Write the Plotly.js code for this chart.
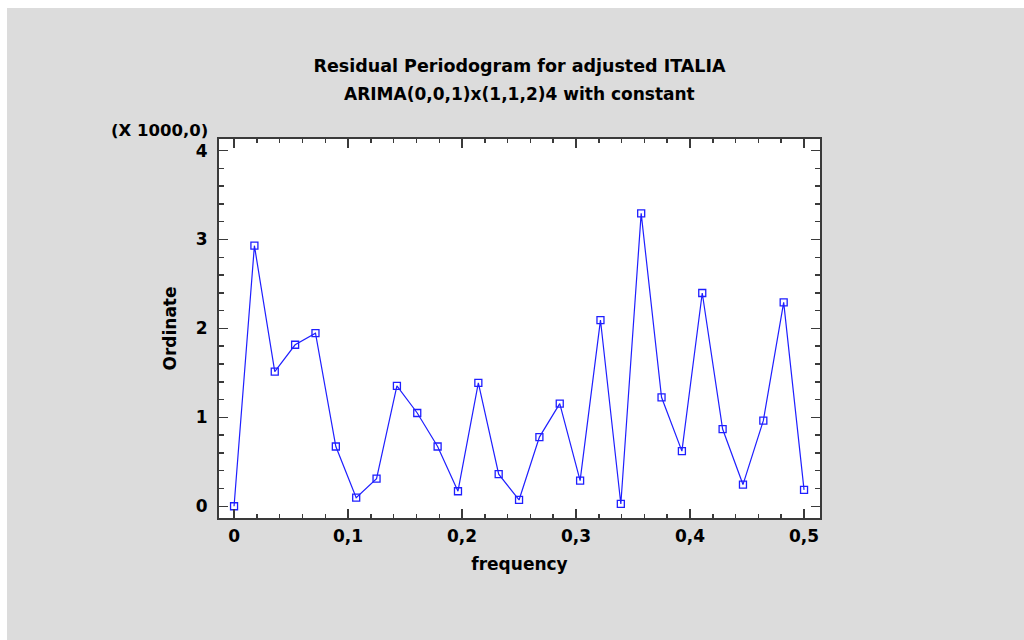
<!DOCTYPE html>
<html>
<head>
<meta charset="utf-8">
<script src="https://cdn.plot.ly/plotly-3.0.1.min.js"></script>
<style>
  html, body { margin: 0; padding: 0; background: #ffffff; width: 1024px; height: 640px; overflow: hidden; }
  #chart { position: absolute; left: 7px; top: 8px; width: 1017px; height: 632px; }
</style>
</head>
<body>
<div id="chart"></div>
<script>
// Periodogram frequencies (cycles per observation), k/56 for k = 0..28
const frequency = [
  0, 0.01786, 0.03571, 0.05357, 0.07143, 0.08929, 0.10714, 0.125, 0.14286, 0.16071,
  0.17857, 0.19643, 0.21429, 0.23214, 0.25, 0.26786, 0.28571, 0.30357, 0.32143, 0.33929,
  0.35714, 0.375, 0.39286, 0.41071, 0.42857, 0.44643, 0.46429, 0.48214, 0.5
];

// Residual periodogram ordinates, in thousands
const ordinate = [
  0.00, 2.93, 1.515, 1.816, 1.947, 0.672, 0.097, 0.311, 1.353, 1.049,
  0.672, 0.169, 1.387, 0.361, 0.071, 0.778, 1.154, 0.289, 2.094, 0.026,
  3.294, 1.225, 0.620, 2.398, 0.868, 0.244, 0.962, 2.293, 0.184
];

const xTickVals = [0, 0.1, 0.2, 0.3, 0.4, 0.5];
const xTickText = ['0', '0,1', '0,2', '0,3', '0,4', '0,5'];
const yTickVals = [0, 1, 2, 3, 4];
const yTickText = ['0', '1', '2', '3', '4'];

const titleLine1 = 'Residual Periodogram for adjusted ITALIA';
const titleLine2 = 'ARIMA(0,0,1)x(1,1,2)4 with constant';
const scaleNote = '(X 1000,0)';

const FONT = 'DejaVu Sans, Liberation Sans, Arial, sans-serif';
const FS = 17;
const BLUE = '#1f1fff';

const trace = {
  x: frequency,
  y: ordinate,
  type: 'scatter',
  mode: 'lines+markers',
  line: { color: BLUE, width: 1.2 },
  marker: { symbol: 'square-open', size: 7, color: BLUE, line: { color: BLUE, width: 1.3 } },
  hoverinfo: 'x+y'
};

const axisCommon = {
  showgrid: false,
  zeroline: false,
  showline: true,
  linecolor: '#3a3a3a',
  linewidth: 2,
  mirror: 'ticks',
  ticks: 'inside',
  tickcolor: '#3a3a3a',
  tickwidth: 1.5,
  ticklen: 9,
  tickfont: { family: FONT, size: FS, color: '#000', weight: 'bold' }
};

const layout = {
  width: 1017,
  height: 632,
  paper_bgcolor: '#dcdcdc',
  plot_bgcolor: '#ffffff',
  margin: { l: 212, r: 204, t: 131, b: 122, pad: 0 },
  showlegend: false,
  title: {
    text: '<b>' + titleLine1 + '</b>',
    font: { family: FONT, size: FS + 0.5, color: '#000' },
    xref: 'paper', x: 0.5, xanchor: 'center',
    yref: 'container', y: 1 - (66 - 8) / 632, yanchor: 'middle'
  },
  xaxis: Object.assign({}, axisCommon, {
    range: [-0.0132, 0.514],
    tickmode: 'array',
    tickvals: xTickVals,
    ticktext: xTickText,
    ticklabelstandoff: 2,
    minor: { dtick: 0.02, tick0: 0, ticks: 'inside', ticklen: 4, tickwidth: 1.5, tickcolor: '#3a3a3a', showgrid: false },
    title: { text: '<b>frequency</b>', font: { family: FONT, size: FS, color: '#000' }, standoff: 13 }
  }),
  yaxis: Object.assign({}, axisCommon, {
    range: [-0.132, 4.13],
    tickmode: 'array',
    tickvals: yTickVals,
    ticktext: yTickText,
    ticklabelstandoff: 6,
    minor: { dtick: 0.2, tick0: 0, ticks: 'inside', ticklen: 5, tickwidth: 1.5, tickcolor: '#3a3a3a', showgrid: false },
    title: { text: '<b>Ordinate</b>', font: { family: FONT, size: FS, color: '#000' }, standoff: 15 }
  }),
  annotations: [
    {
      text: '<b>' + titleLine2 + '</b>',
      xref: 'paper', x: 0.5, xanchor: 'center',
      yref: 'paper', y: 1 + (139 - 94) / 378, yanchor: 'middle',
      showarrow: false,
      font: { family: FONT, size: FS, color: '#000' }
    },
    {
      text: '<b>' + scaleNote + '</b>',
      xref: 'paper', x: -9 / 601, xanchor: 'right',
      yref: 'paper', y: 1 + (139 - 131) / 378, yanchor: 'middle',
      showarrow: false,
      font: { family: FONT, size: FS - 0.5, color: '#000' }
    }
  ]
};

Plotly.newPlot('chart', [trace], layout, { displayModeBar: false, staticPlot: true });
</script>
</body>
</html>
